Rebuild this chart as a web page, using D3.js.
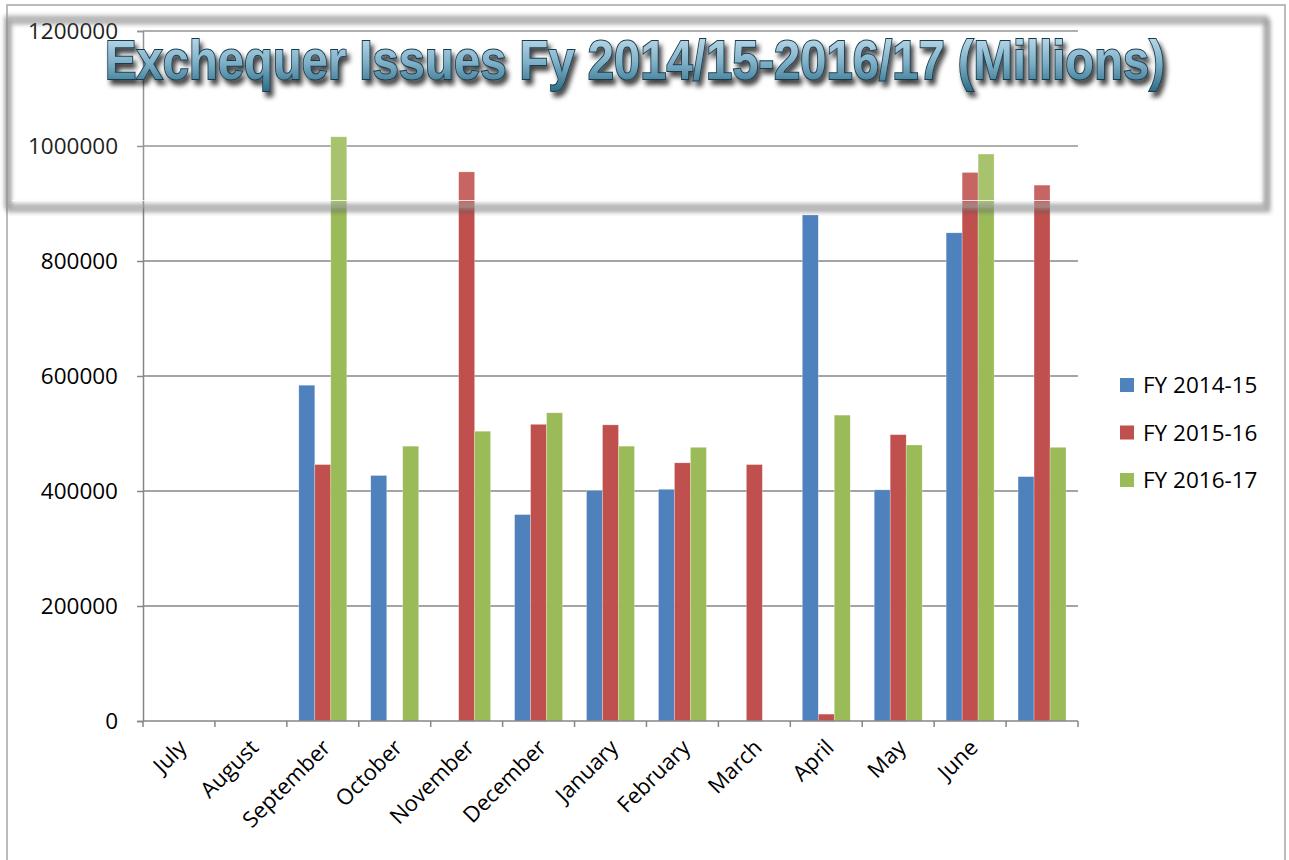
<!DOCTYPE html>
<html>
<head>
<meta charset="utf-8">
<script src="https://cdn.jsdelivr.net/npm/d3@7"></script>
<style>
  html, body { margin: 0; padding: 0; background: #fff; }
  svg { display: block; }
</style>
</head>
<body>
<svg id="chart"></svg>
<script>
// DATA
const months = ['July', 'August', 'September', 'October', 'November', 'December',
    'January', 'February', 'March', 'April', 'May', 'June', ''];
const seriesNames = ['FY 2014-15', 'FY 2015-16', 'FY 2016-17'];
const fy1415 = [0, 0, 584000, 427000, 0, 359000, 401000, 403000, 0, 880000, 402000, 849000, 425000];
const fy1516 = [0, 0, 446000, 0, 955000, 516000, 515000, 449000, 446000, 12000, 498000, 954000, 932000];
const fy1617 = [0, 0, 1016000, 478000, 504000, 536000, 478000, 476000, 0, 532000, 480000, 986000, 476000];
const yTicks = [0, 200000, 400000, 600000, 800000, 1000000, 1200000];
const titleText = 'Exchequer Issues Fy 2014/15-2016/17 (Millions)';

// LAYOUT
const WIDTH = 1289, HEIGHT = 860;
const PLOT = { left: 143, right: 1078, top: 31, bottom: 721 };
const COLORS = ['#4f81bd', '#c0504d', '#9bbb59'];
const GRID_COLOR = '#868686';
const FONT = '"Open Sans", "DejaVu Sans", sans-serif';

const svg = d3.select('#chart')
    .attr('width', WIDTH)
    .attr('height', HEIGHT);

const defs = svg.append('defs');

const blur = defs.append('filter').attr('id', 'frameBlur')
    .attr('x', '-5%').attr('y', '-20%').attr('width', '110%').attr('height', '140%');
blur.append('feGaussianBlur').attr('stdDeviation', 2.2);

const titleShadow = defs.append('filter').attr('id', 'titleShadow')
    .attr('x', '-5%').attr('y', '-30%').attr('width', '110%').attr('height', '170%');
titleShadow.append('feDropShadow')
    .attr('dx', 3).attr('dy', 5).attr('stdDeviation', 2.5)
    .attr('flood-color', '#000').attr('flood-opacity', 0.75);

const titleGrad = defs.append('linearGradient').attr('id', 'titleGrad')
    .attr('x1', 0).attr('y1', 0).attr('x2', 0).attr('y2', 1);
titleGrad.append('stop').attr('offset', '0%').attr('stop-color', '#cfe6f2');
titleGrad.append('stop').attr('offset', '55%').attr('stop-color', '#7fb0c8');
titleGrad.append('stop').attr('offset', '100%').attr('stop-color', '#2f6c86');

// outer chart border
svg.append('rect')
    .attr('x', 7).attr('y', 5)
    .attr('width', 1278).attr('height', HEIGHT + 10)
    .attr('fill', 'none')
    .attr('stroke', '#a6a6a6')
    .attr('stroke-width', 1.5);

// scales
const x0 = d3.scaleBand()
    .domain(d3.range(months.length))
    .range([PLOT.left, PLOT.right])
    .paddingInner(0).paddingOuter(0);

const x1 = d3.scaleBand()
    .domain(d3.range(seriesNames.length))
    .range([0, x0.bandwidth()])
    .paddingInner(0).paddingOuter(0.75);

const y = d3.scaleLinear()
    .domain([0, 1200000])
    .range([PLOT.bottom, PLOT.top]);

// gridlines
svg.append('g')
    .selectAll('line')
    .data(yTicks.filter(d => d > 0))
    .enter()
    .append('line')
    .attr('x1', PLOT.left).attr('x2', PLOT.right)
    .attr('y1', d => y(d)).attr('y2', d => y(d))
    .style('stroke', GRID_COLOR)
    .style('stroke-width', 1.5);

// y axis
const yAxis = svg.append('g')
    .attr('transform', `translate(${PLOT.left},0)`)
    .call(d3.axisLeft(y).tickValues(yTicks).tickSize(6).tickPadding(19).tickFormat(d3.format('d')));
yAxis.select('.domain').style('stroke', GRID_COLOR).style('stroke-width', 1.5);
yAxis.selectAll('.tick line').style('stroke', GRID_COLOR).style('stroke-width', 1.5);
yAxis.selectAll('.tick text')
    .style('font-family', FONT)
    .style('font-size', '22.5px')
    .style('fill', '#000');

// bars
const barData = months.flatMap((m, i) => [fy1415[i], fy1516[i], fy1617[i]]
    .map((v, s) => ({ cat: i, series: s, value: v })))
    .filter(d => d.value > 0);

svg.append('g')
    .selectAll('.bar')
    .data(barData)
    .enter()
    .append('rect')
    .classed('bar', true)
    .attr('x', d => x0(d.cat) + x1(d.series))
    .attr('width', x1.bandwidth())
    .attr('y', d => y(d.value))
    .attr('height', d => y(0) - y(d.value))
    .style('fill', d => COLORS[d.series])
    .style('stroke', 'rgba(255,255,255,0.45)')
    .style('stroke-width', 0.6);

// x axis
const xAxisG = svg.append('g')
    .attr('transform', `translate(0,${PLOT.bottom})`);
xAxisG.append('line')
    .attr('x1', PLOT.left).attr('x2', PLOT.right)
    .style('stroke', GRID_COLOR).style('stroke-width', 1.5);
xAxisG.selectAll('.xtick')
    .data(d3.range(months.length + 1))
    .enter()
    .append('line')
    .attr('x1', i => i < months.length ? x0(i) : PLOT.right)
    .attr('x2', i => i < months.length ? x0(i) : PLOT.right)
    .attr('y1', 0).attr('y2', 6)
    .style('stroke', GRID_COLOR).style('stroke-width', 1.5);
xAxisG.selectAll('.xlabel')
    .data(months)
    .enter()
    .append('text')
    .text(d => d)
    .attr('transform', (d, i) => `translate(${x0(i) + x0.bandwidth() / 2 + 9},${28}) rotate(-45)`)
    .style('text-anchor', 'end')
    .style('font-family', FONT)
    .style('font-size', '22px')
    .style('fill', '#000');

// legend
const legend = svg.append('g')
    .selectAll('.legend-item')
    .data(seriesNames)
    .enter()
    .append('g')
    .attr('transform', (d, i) => `translate(1120,${385 + i * 47.5})`);
legend.append('rect')
    .attr('x', 0).attr('y', -7)
    .attr('width', 14).attr('height', 14)
    .style('fill', (d, i) => COLORS[i]);
legend.append('text')
    .text(d => d)
    .attr('x', 23).attr('y', 8)
    .style('font-family', FONT)
    .style('font-size', '22.5px')
    .style('fill', '#000');

// title frame
const frame = svg.append('g');
frame.append('rect')
    .attr('x', 7).attr('y', 18)
    .attr('width', 1259).attr('height', 190)
    .attr('fill', 'rgba(255,255,255,0.12)');
frame.append('rect')
    .attr('x', 9).attr('y', 22)
    .attr('width', 1259).attr('height', 188)
    .attr('fill', 'none')
    .attr('stroke', '#555')
    .attr('stroke-width', 5)
    .attr('opacity', 0.45)
    .attr('filter', 'url(#frameBlur)');
frame.append('rect')
    .attr('x', 7).attr('y', 18)
    .attr('width', 1259).attr('height', 188)
    .attr('fill', 'none')
    .attr('stroke', '#9a9a9a')
    .attr('stroke-width', 5)
    .attr('opacity', 0.75)
    .attr('filter', 'url(#frameBlur)');
frame.append('line')
    .attr('x1', 12).attr('x2', 1262)
    .attr('y1', 200.5).attr('y2', 200.5)
    .style('stroke', '#fff').style('stroke-width', 1.2).style('opacity', 0.8);

// title
svg.append('text')
    .text(titleText)
    .attr('x', 105).attr('y', 79)
    .attr('textLength', 1060)
    .attr('lengthAdjust', 'spacingAndGlyphs')
    .style('font-family', '"Liberation Sans Narrow", "Liberation Sans", sans-serif')
    .style('font-weight', 'bold')
    .style('font-size', '56px')
    .style('fill', 'url(#titleGrad)')
    .style('stroke', '#163c4e')
    .style('stroke-width', 2)
    .style('paint-order', 'stroke')
    .attr('filter', 'url(#titleShadow)');
</script>
</body>
</html>
